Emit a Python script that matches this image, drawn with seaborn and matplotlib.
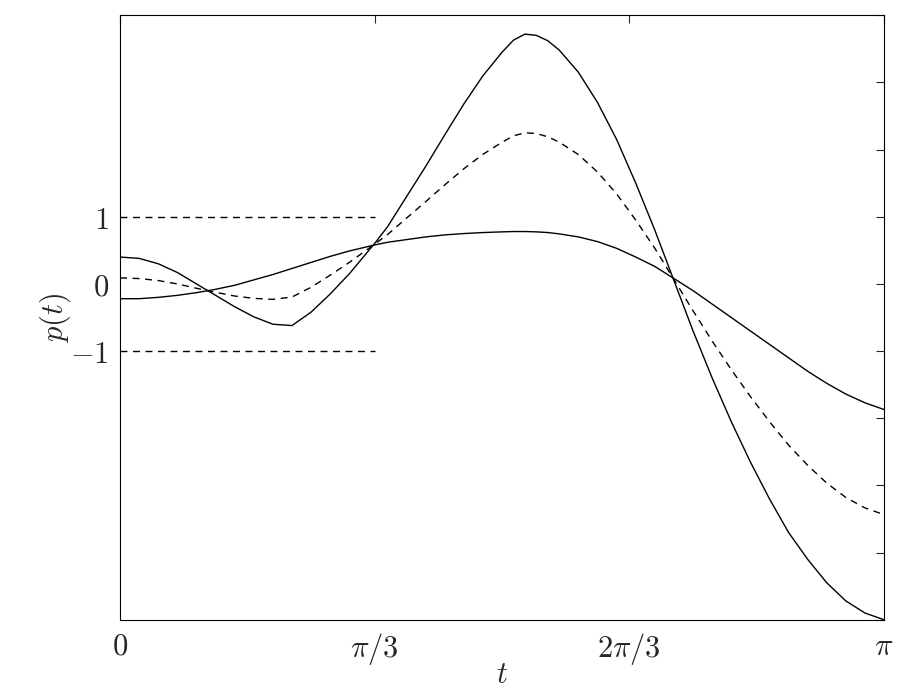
import numpy as np
import pandas as pd
import seaborn as sns
import matplotlib
matplotlib.use("Agg")
import matplotlib.pyplot as plt

sns.set_style("white")
plt.rcParams['mathtext.fontset'] = 'cm'
plt.rcParams['font.family'] = ['DejaVu Serif']

frac = [0, .025, .05, .075, .1, .125, .15, .175, .2, .225, .25, .275, .3, .333, .35, .375, .4, .425, .45, .475,
        .5, .515, .53, .545, .56, .575, .6, .625, .65, .675, .7, .725, .75, .775, .8, .825, .85, .875, .9, .925,
        .95, .975, 1]
curve_a = [.4, .38, .3, .17, 0, -.17, -.34, -.49, -.6, -.62, -.42, -.15, .15, .6, .85, 1.3, 1.75, 2.22, 2.68, 3.1,
           3.45, 3.63, 3.72, 3.7, 3.62, 3.48, 3.15, 2.7, 2.15, 1.5, .8, .05, -.7, -1.4, -2.05, -2.65, -3.2, -3.7, -4.1, -4.45,
           -4.72, -4.9, -5.0]
curve_b = [.09, .08, .05, 0, -.065, -.125, -.18, -.215, -.23, -.195, -.05, .13, .32, .59, .735, .98, 1.225, 1.475, 1.715, 1.93,
           2.11, 2.205, 2.25, 2.24, 2.19, 2.11, 1.925, 1.665, 1.34, .95, .53, .065, -.4, -.85, -1.275, -1.675, -2.05, -2.4, -2.7, -2.965,
           -3.18, -3.335, -3.435]
curve_c = [-.22, -.22, -.2, -.17, -.13, -.08, -.02, .06, .14, .23, .32, .41, .49, .58, .62, .66, .7, .73, .75, .765,
           .775, .78, .78, .775, .765, .745, .7, .63, .53, .4, .26, .08, -.1, -.3, -.5, -.7, -.9, -1.1, -1.3, -1.48,
           -1.64, -1.77, -1.87]
x_ticklabels = [r'$0$', r'$\pi/3$', r'$2\pi/3$', r'$\pi$']
y_ticklabels = {-1: r'$-1$', 0: r'$0$', 1: r'$1$'}

t = np.array(frac) * np.pi
fig = plt.figure(figsize=(9.03, 6.94), dpi=100)
ax = fig.add_axes([0.133, 0.107, 0.846, 0.871])
sns.lineplot(x=t, y=curve_a, ax=ax, color='black', lw=1)
sns.lineplot(x=t, y=curve_b, ax=ax, color='black', lw=1, linestyle=(0, (5, 4)))
sns.lineplot(x=t, y=curve_c, ax=ax, color='black', lw=1)
for lvl in (1, -1):
    ax.plot([0, np.pi/3], [lvl, lvl], color='black', lw=1, linestyle=(0, (5, 4)))

ax.set_xlim(0, np.pi)
ax.set_ylim(-5, 4)
ax.set_xticks([0, np.pi/3, 2*np.pi/3, np.pi])
ax.set_xticklabels(x_ticklabels, fontsize=22)
yt = list(range(-5, 5))
ax.set_yticks(yt)
ax.set_yticklabels([y_ticklabels.get(v, '') for v in yt], fontsize=22)
ax.tick_params(direction='in', top=True, right=True, length=6, width=0.8, pad=8)
ax.set_xlabel(r'$t$', fontsize=22, labelpad=-6)
ax.set_ylabel(r'$p(t)$', fontsize=22, labelpad=-2)
for s in ax.spines.values():
    s.set_color('black'); s.set_linewidth(0.8)
fig.savefig('out.png', dpi=100)
